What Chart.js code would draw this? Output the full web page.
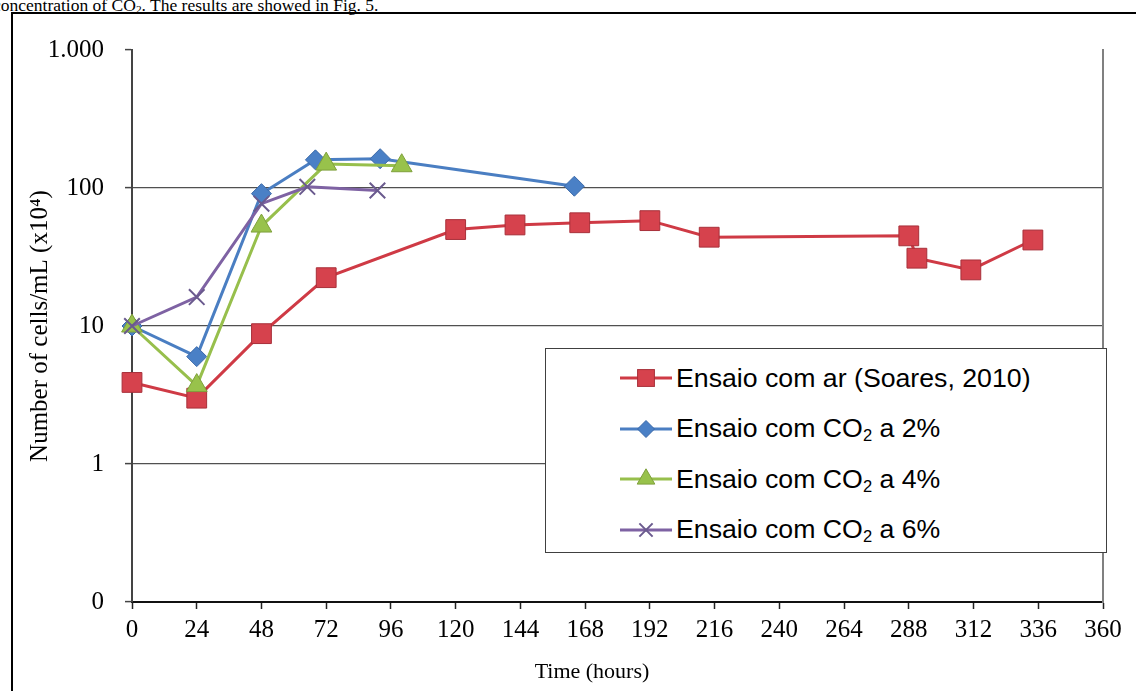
<!DOCTYPE html>
<html>
<head>
<meta charset="utf-8">
<script src="https://cdn.jsdelivr.net/npm/chart.js@4/dist/chart.umd.min.js"></script>
<style>
  html, body { margin: 0; padding: 0; background: #fff; width: 1136px; height: 691px; overflow: hidden; }
  #caption {
    position: absolute; left: -7px; top: -3px;
    font-family: "Liberation Serif", "Times New Roman", serif; font-size: 17.5px; line-height: 17.5px;
    white-space: nowrap; color: #000;
  }
  #caption sub { font-size: 0.65em; vertical-align: -0.2em; line-height: 0; }
  #frame {
    position: absolute; left: 11px; top: 12px; width: 1300px; height: 900px;
    border-left: 2px solid #000; border-top: 2px solid #000;
  }
  #wrap { position: absolute; left: 0; top: 0; width: 1136px; height: 691px; }
  #xTitle {
    position: absolute; left: 492px; width: 200px; top: 658px; text-align: center;
    font-family: "Liberation Serif", "Times New Roman", serif; font-size: 22px; line-height: 26px; color: #000;
  }
  #legend {
    position: absolute; left: 545px; top: 348px; width: 562px; height: 205px;
    box-sizing: border-box; border: 1px solid #404040; background: #fff;
    padding-top: 4px;
    font-family: "Liberation Sans", Arial, sans-serif; font-size: 26.7px; color: #000;
  }
  .item { height: 50.5px; display: flex; align-items: center; padding-left: 74px; }
  .item svg { flex: none; margin-right: 4px; }
  .item sub { font-size: 0.62em; vertical-align: -0.25em; line-height: 0; }
</style>
</head>
<body>
<div id="caption">concentration of CO<sub>2</sub>. The results are showed in Fig. 5.</div>
<div id="frame"></div>
<div id="wrap"><canvas id="chart" width="1136" height="691"></canvas></div>
<div id="xTitle">Time (hours)</div>
<div id="legend"></div>
<script>
// Growth curves: cell counts (x10^4 cells/mL) over time (hours)
const seriesNames = [
  'Ensaio com ar (Soares, 2010)',
  'Ensaio com CO₂ a 2%',
  'Ensaio com CO₂ a 4%',
  'Ensaio com CO₂ a 6%'
];

const hoursAr   = [0, 24, 48, 72, 120, 142, 166, 192, 214, 288, 291, 311, 334];
const cellsAr   = [3.9, 3.0, 8.8, 22.4, 50, 54, 56, 58, 44, 45, 31, 25.5, 42];

const hoursCO2a = [0, 24, 48, 68, 92, 164];
const cellsCO2a = [10, 6.0, 91, 160, 163, 103];

const hoursCO2b = [0, 24, 48, 72, 100];
const cellsCO2b = [10, 3.7, 53, 149, 145];

const hoursCO2c = [0, 24, 48, 65, 91];
const cellsCO2c = [10, 16.2, 77, 102, 96];

const xMin = 0, xMax = 360, xStep = 24;
const yTickValues = [0.1, 1, 10, 100, 1000];
const yTickLabels = ['0', '1', '10', '100', '1.000'];

// Series styling
const styles = [
  { line: '#CF3A45', fill: '#D6424D', edge: '#A8303A', point: 'rect',     radius: 14, pw: 1 },
  { line: '#4A7EC2', fill: '#4A80C6', edge: '#3A68A8', point: 'rectRot',  radius: 10, pw: 1 },
  { line: '#97BF4C', fill: '#98C24B', edge: '#7FA03C', point: 'triangle', radius: 12, pw: 1 },
  { line: '#7E62A3', fill: '#7E62A3', edge: '#6A5A8E', point: 'crossRot', radius: 11, pw: 2 }
];

const toPoints = (xs, ys) => xs.map((x, i) => ({ x: x, y: ys[i] }));
const seriesData = [
  toPoints(hoursAr, cellsAr),
  toPoints(hoursCO2a, cellsCO2a),
  toPoints(hoursCO2b, cellsCO2b),
  toPoints(hoursCO2c, cellsCO2c)
];

const serif = '"Liberation Serif", "Times New Roman", serif';

const datasets = seriesData.map((data, i) => ({
  label: seriesNames[i],
  data: data,
  borderColor: styles[i].line,
  borderWidth: 3,
  backgroundColor: styles[i].fill,
  pointStyle: styles[i].point,
  pointRadius: styles[i].radius,
  pointHoverRadius: styles[i].radius,
  pointBackgroundColor: styles[i].fill,
  pointBorderColor: styles[i].edge,
  pointBorderWidth: styles[i].pw,
  fill: false,
  tension: 0,
  order: seriesData.length - 1 - i,
  clip: false
}));

new Chart(document.getElementById('chart'), {
  type: 'line',
  data: { datasets: datasets },
  options: {
    responsive: false,
    animation: false,
    devicePixelRatio: 1,
    layout: { padding: { left: 0, right: 33, top: 50, bottom: 0 } },
    plugins: { legend: { display: false }, tooltip: { enabled: false } },
    scales: {
      x: {
        type: 'linear', min: xMin, max: xMax,
        ticks: { stepSize: xStep, autoSkip: false, maxRotation: 0, padding: 6,
                 color: '#000', font: { family: serif, size: 25 } },
        grid: { drawOnChartArea: false, drawTicks: true, tickLength: 7, tickColor: '#222', tickWidth: 1.5 },
        border: { color: '#111', width: 2 },
        afterFit: s => { s.height = 89; }
      },
      y: {
        type: 'logarithmic', min: yTickValues[0], max: yTickValues[yTickValues.length - 1],
        afterBuildTicks: s => { s.ticks = yTickValues.map(v => ({ value: v })); },
        ticks: { callback: (v, i) => yTickLabels[i], padding: 21, color: '#000',
                 font: { family: serif, size: 25 } },
        grid: {
          color: c => (c.tick && (c.tick.value === 0.1 || c.tick.value === 1000)) ? 'rgba(0,0,0,0)' : '#505050',
          lineWidth: 1.2, drawTicks: true, tickLength: 7, tickColor: '#444', tickWidth: 1.5
        },
        border: { color: '#444', width: 2 },
        title: { display: true, text: 'Number of cells/mL (x10⁴)', color: '#000',
                 font: { family: serif, size: 25 }, padding: { top: 25, bottom: 0 } },
        afterFit: s => { s.width = 132; }
      },
      frameRight: {
        type: 'linear', position: 'right', min: 0, max: 1, display: true,
        ticks: { display: false },
        grid: { display: false, drawTicks: false },
        border: { display: true, color: '#808080', width: 2 },
        afterFit: s => { s.width = 0; }
      }
    }
  }
});

// Legend box built from the same series definitions
function markerSvg(st) {
  const cx = 26, cy = 13, r = st.radius * 0.85;
  let shape = '';
  if (st.point === 'rect') {
    const h = r * Math.SQRT1_2;
    shape = `<rect x="${cx - h}" y="${cy - h}" width="${2 * h}" height="${2 * h}" fill="${st.fill}" stroke="${st.edge}" stroke-width="${st.pw}"/>`;
  } else if (st.point === 'rectRot') {
    shape = `<polygon points="${cx},${cy - r} ${cx + r},${cy} ${cx},${cy + r} ${cx - r},${cy}" fill="${st.fill}" stroke="${st.edge}" stroke-width="${st.pw}"/>`;
  } else if (st.point === 'triangle') {
    const s = Math.sin(Math.PI / 3) * r;
    shape = `<polygon points="${cx},${cy - r} ${cx + s},${cy + r / 2} ${cx - s},${cy + r / 2}" fill="${st.fill}" stroke="${st.edge}" stroke-width="${st.pw}"/>`;
  } else {
    const d = r * Math.SQRT1_2;
    shape = `<path d="M${cx - d},${cy - d}L${cx + d},${cy + d}M${cx + d},${cy - d}L${cx - d},${cy + d}" stroke="${st.edge}" stroke-width="${st.pw}"/>`;
  }
  return `<svg width="52" height="26" viewBox="0 0 52 26"><line x1="0" y1="${cy}" x2="52" y2="${cy}" stroke="${st.line}" stroke-width="3"/>${shape}</svg>`;
}

const legendEl = document.getElementById('legend');
seriesNames.forEach((name, i) => {
  const row = document.createElement('div');
  row.className = 'item';
  const text = name.replace('₂', '<sub>2</sub>');
  row.innerHTML = markerSvg(styles[i]) + '<span>' + text + '</span>';
  legendEl.appendChild(row);
});
</script>
</body>
</html>
